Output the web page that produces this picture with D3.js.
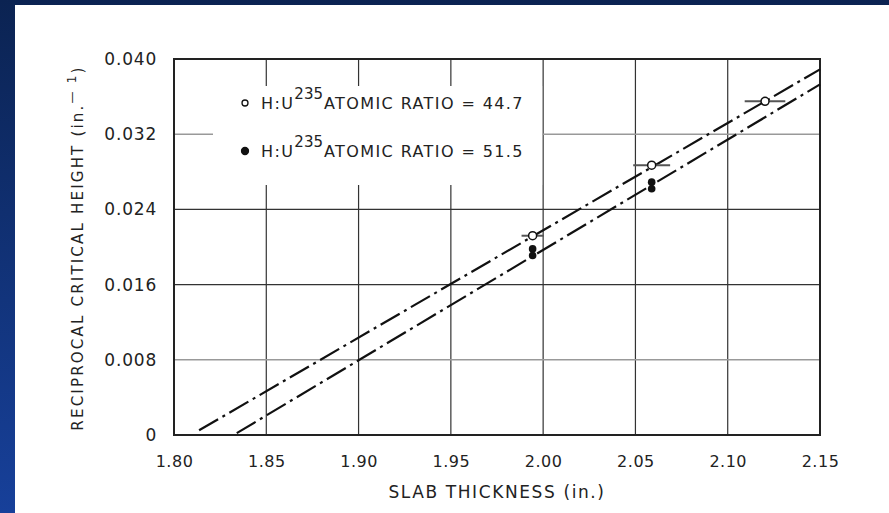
<!DOCTYPE html>
<html>
<head>
<meta charset="utf-8">
<script src="https://cdn.jsdelivr.net/npm/d3@7"></script>
<style>
  body { margin: 0; padding: 0; overflow: hidden; }
  svg text { font-family: "DejaVu Sans", Arial, sans-serif; fill: #222; }
</style>
</head>
<body>
<svg id="chart" width="889" height="513"></svg>
<script>
// values
var xTicks = [1.80, 1.85, 1.90, 1.95, 2.00, 2.05, 2.10, 2.15];
var xTickLabels = ["1.80", "1.85", "1.90", "1.95", "2.00", "2.05", "2.10", "2.15"];
var yTicks = [0, 0.008, 0.016, 0.024, 0.032, 0.040];
var yTickLabels = ["0", "0.008", "0.016", "0.024", "0.032", "0.040"];

// H:U235 = 44.7 (open circles, with horizontal error bars)
var openX = [1.9943, 2.0588, 2.1202];
var openY = [0.0212, 0.0287, 0.0355];
var openXErr = [0.006, 0.010, 0.011];
// H:U235 = 51.5 (filled circles)
var filledX = [1.9943, 1.9943, 2.0588, 2.0588];
var filledY = [0.0198, 0.0191, 0.0269, 0.0262];

// fitted lines (end points)
var upperLineX = [1.8136, 2.15];
var upperLineY = [0.0005, 0.0389];
var lowerLineX = [1.834, 2.15];
var lowerLineY = [0.0002, 0.0373];

var svg = d3.select("#chart");

// blue slide background with white panel
var defs = svg.append("defs");
var grad = defs.append("linearGradient").attr("id", "bg").attr("x1", 0).attr("y1", 0).attr("x2", 0).attr("y2", 1);
grad.append("stop").attr("offset", "0%").attr("stop-color", "#0b2352");
grad.append("stop").attr("offset", "100%").attr("stop-color", "#17409a");
svg.append("rect").attr("width", 889).attr("height", 513).attr("fill", "url(#bg)");
svg.append("rect").attr("x", 15).attr("y", 5).attr("width", 874).attr("height", 508).attr("fill", "#fff");

var x = d3.scaleLinear().domain([1.80, 2.15]).range([174, 820]);
var y = d3.scaleLinear().domain([0, 0.040]).range([435, 59]);

var g = svg.append("g");

// grid
g.append("g")
  .selectAll("line")
  .data(xTicks.slice(1, -1))
  .enter().append("line")
    .attr("x1", function(d) { return x(d); })
    .attr("x2", function(d) { return x(d); })
    .attr("y1", y(0.040))
    .attr("y2", y(0))
    .attr("stroke", "#333")
    .attr("stroke-width", 1.2);

g.append("g")
  .selectAll("line")
  .data(yTicks.slice(1, -1))
  .enter().append("line")
    .attr("x1", x(1.80))
    .attr("x2", x(2.15))
    .attr("y1", function(d) { return y(d); })
    .attr("y2", function(d) { return y(d); })
    .attr("stroke", function(d) { return (d === 0.008 || d === 0.032) ? "#999" : "#333"; })
    .attr("stroke-width", 1.4);

// the legend covers part of the grid
g.append("rect")
  .attr("x", 213).attr("y", 86)
  .attr("width", x(2.00) - 214).attr("height", 99)
  .attr("fill", "#fff");

// frame
g.append("rect")
  .attr("x", x(1.80)).attr("y", y(0.040))
  .attr("width", x(2.15) - x(1.80)).attr("height", y(0) - y(0.040))
  .attr("fill", "none")
  .attr("stroke", "#222")
  .attr("stroke-width", 2);

// axes (labels only, frame drawn above)
var xAxis = g.append("g")
  .attr("transform", "translate(0," + y(0) + ")")
  .call(d3.axisBottom(x).tickValues(xTicks).tickSize(0).tickPadding(21)
    .tickFormat(function(d, i) { return xTickLabels[i]; }));
xAxis.select(".domain").remove();
xAxis.selectAll("text").attr("font-size", 16).attr("letter-spacing", 0.5).attr("fill", "#222");

var yAxis = g.append("g")
  .attr("transform", "translate(" + x(1.80) + ",0)")
  .call(d3.axisLeft(y).tickValues(yTicks).tickSize(0).tickPadding(17)
    .tickFormat(function(d, i) { return yTickLabels[i]; }));
yAxis.select(".domain").remove();
yAxis.selectAll("text").attr("font-size", 17).attr("letter-spacing", 0.8).attr("fill", "#222");

// dash-dot lines
var line = d3.line()
  .x(function(d) { return x(d[0]); })
  .y(function(d) { return y(d[1]); });

[[upperLineX, upperLineY], [lowerLineX, lowerLineY]].forEach(function(s) {
  g.append("path")
    .datum(d3.zip(s[0], s[1]))
    .attr("d", line)
    .attr("fill", "none")
    .attr("stroke", "#111")
    .attr("stroke-width", 2.2)
    .attr("stroke-dasharray", "22,5,3,5");
});

// error bars
g.append("g")
  .selectAll("line")
  .data(d3.range(openX.length))
  .enter().append("line")
    .attr("x1", function(i) { return x(openX[i] - openXErr[i]); })
    .attr("x2", function(i) { return x(openX[i] + openXErr[i]); })
    .attr("y1", function(i) { return y(openY[i]); })
    .attr("y2", function(i) { return y(openY[i]); })
    .attr("stroke", "#555")
    .attr("stroke-width", 2);

g.append("g")
  .selectAll("circle")
  .data(d3.range(openX.length))
  .enter().append("circle")
    .attr("cx", function(i) { return x(openX[i]); })
    .attr("cy", function(i) { return y(openY[i]); })
    .attr("r", 4)
    .attr("fill", "#fff")
    .attr("stroke", "#111")
    .attr("stroke-width", 1.5);

g.append("g")
  .selectAll("circle")
  .data(d3.range(filledX.length))
  .enter().append("circle")
    .attr("cx", function(i) { return x(filledX[i]); })
    .attr("cy", function(i) { return y(filledY[i]); })
    .attr("r", 3.8)
    .attr("fill", "#111");

// legend
var legend = g.append("g");
var legendRows = [{ratio: "44.7", open: true, y: 109}, {ratio: "51.5", open: false, y: 157}];

legendRows.forEach(function(r) {
  legend.append("circle")
    .attr("cx", 245).attr("cy", r.y - 6)
    .attr("r", r.open ? 3 : 3.5)
    .attr("fill", r.open ? "#fff" : "#111")
    .attr("stroke", "#111")
    .attr("stroke-width", 1.3);
  var t = legend.append("text")
    .attr("x", 261).attr("y", r.y)
    .attr("font-size", 16)
    .attr("letter-spacing", 1.4);
  t.append("tspan").text("H:U");
  t.append("tspan").attr("dy", -10).attr("font-size", 15).attr("letter-spacing", 0).text("235");
  t.append("tspan").attr("dy", 10).attr("dx", 1).text("ATOMIC RATIO = " + r.ratio);
});

// axis titles
g.append("text")
  .attr("x", 497).attr("y", 498)
  .attr("text-anchor", "middle")
  .attr("font-size", 17)
  .attr("letter-spacing", 1.6)
  .text("SLAB THICKNESS (in.)");

var yt = g.append("text")
  .attr("transform", "translate(83," + 248 + ") rotate(-90)")
  .attr("text-anchor", "middle")
  .attr("font-size", 15)
  .attr("letter-spacing", 2.2);
yt.append("tspan").text("RECIPROCAL CRITICAL HEIGHT (in.");
yt.append("tspan").attr("dy", -7).attr("font-size", 12).text("\u2014 1");
yt.append("tspan").attr("dy", 7).text(")");
</script>
</body>
</html>
